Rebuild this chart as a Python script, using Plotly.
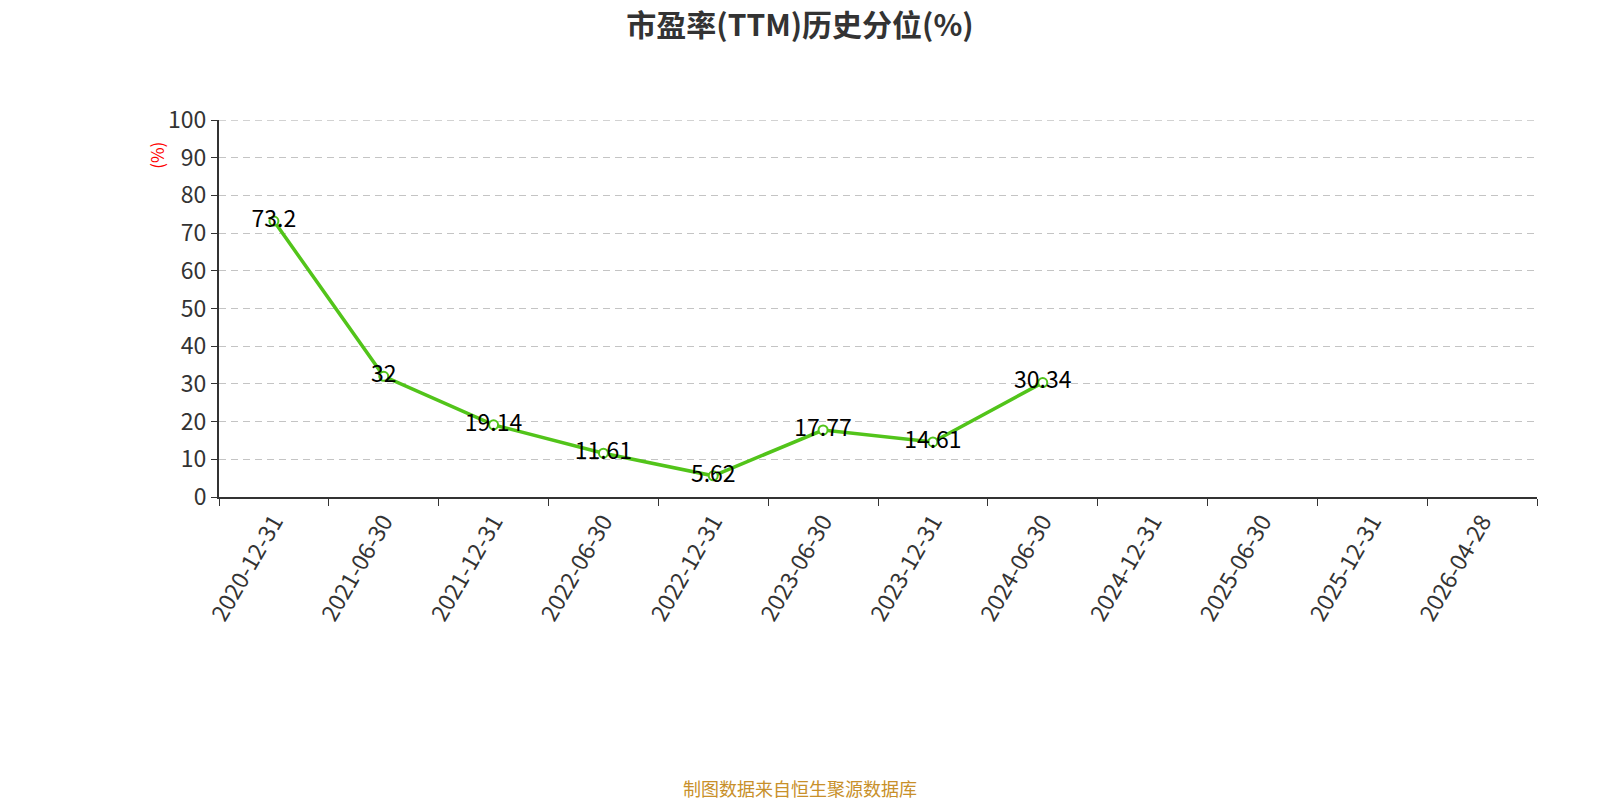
import plotly.graph_objects as go

# 市盈率(TTM)历史分位 data
categories = ["2020-12-31", "2021-06-30", "2021-12-31", "2022-06-30", "2022-12-31",
              "2023-06-30", "2023-12-31", "2024-06-30", "2024-12-31", "2025-06-30",
              "2025-12-31", "2026-04-28"]
pe_dates = categories[:8]
pe_values = [73.2, 32, 19.14, 11.61, 5.62, 17.77, 14.61, 30.34]
pe_labels = ["73.2", "32", "19.14", "11.61", "5.62", "17.77", "14.61", "30.34"]
y_max = 100

font_main = "Noto Sans CJK SC, Microsoft YaHei, sans-serif"
grid_color = "#c4c4c4"

fig = go.Figure()
fig.add_trace(go.Scatter(
    x=pe_dates, y=pe_values,
    mode="lines+markers+text",
    text=pe_labels,
    textposition="middle center",
    textfont=dict(size=23, color="#000000", family=font_main),
    line=dict(color="#52c41a", width=3.5),
    marker=dict(size=9, color="#ffffff", line=dict(color="#52c41a", width=2)),
    hoverinfo="x+y",
    showlegend=False,
))

# top gridline (plotly drops the one on the plot edge)
fig.add_shape(type="line", xref="x", yref="y",
              x0=-0.5, x1=len(categories) - 0.5, y0=y_max, y1=y_max,
              line=dict(color=grid_color, width=1.3, dash="7px,5px"), layer="below")

fig.update_layout(
    width=1600, height=800,
    paper_bgcolor="#ffffff", plot_bgcolor="#ffffff",
    margin=dict(l=211, r=71, t=112, b=311),
    font=dict(family=font_main, color="#333333"),
    title=dict(text="<b>市盈率(TTM)历史分位(%)</b>", x=0.495, xanchor="center",
               y=0.978, yanchor="middle", font=dict(size=30, color="#333333")),
    xaxis=dict(
        type="category", categoryorder="array", categoryarray=categories,
        range=[-0.5, len(categories) - 0.5],
        tickson="boundaries", ticks="outside", ticklen=7, tickcolor="#333333",
        showline=True, linecolor="#333333", linewidth=2,
        showgrid=False, tickangle=-60,
        tickfont=dict(size=23, color="#333333"),
    ),
    yaxis=dict(
        range=[0, y_max], dtick=10, ticks="outside", ticklen=6, tickcolor="#333333",
        showline=True, linecolor="#333333", linewidth=2,
        showgrid=True, gridcolor=grid_color, griddash="7px,5px", gridwidth=1.3,
        zeroline=False, tickfont=dict(size=23, color="#333333"),
    ),
    annotations=[
        dict(text="(%)", xref="paper", yref="paper", x=-0.048, y=0.907,
             xanchor="center", yanchor="middle", textangle=-90, showarrow=False,
             font=dict(size=17, color="#ff0000")),
        dict(text="制图数据来自恒生聚源数据库", xref="paper", yref="paper",
             x=0.441, y=-0.773, xanchor="center", yanchor="middle", showarrow=False,
             font=dict(size=18, color="#c8902a")),
    ],
)

fig.write_html("out.html")
